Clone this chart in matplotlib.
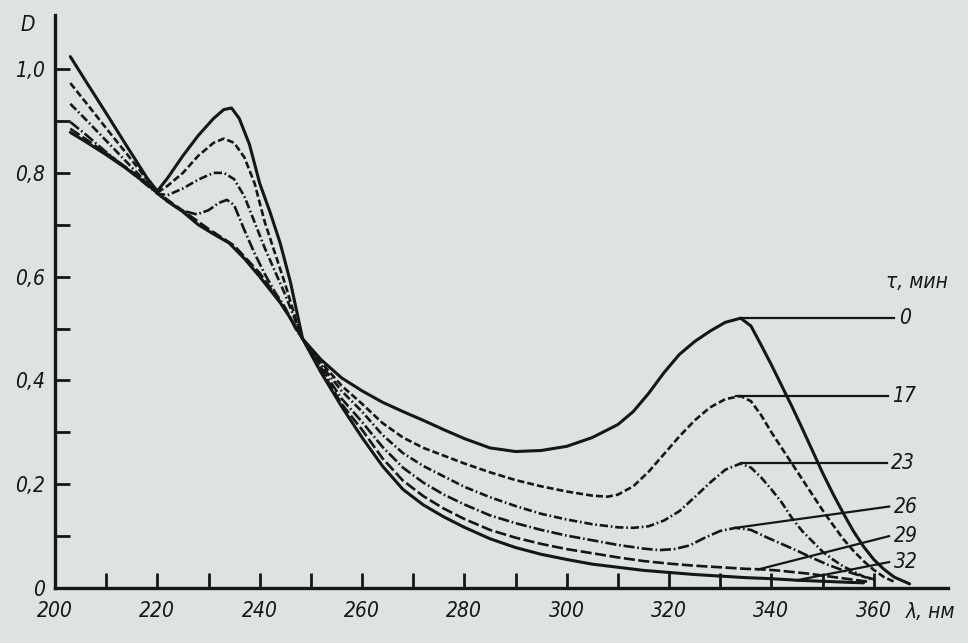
import matplotlib
matplotlib.use('Agg')
import matplotlib.pyplot as plt

# absorption spectra D(lambda) at different times tau, min
wl_0 = [203, 206, 210, 214, 218, 220, 222, 225, 228, 231, 233, 234.5, 236, 238, 240, 242, 244, 246, 248.4,
        252, 256, 260, 264, 268, 272, 276, 280, 285, 290, 295, 300, 305, 310, 313, 316, 319, 322, 325, 328,
        331, 334, 336, 338, 340, 342, 344, 346, 348, 350, 352, 354, 356, 358, 360, 362, 364, 367]
d_0 = [1.024, 0.977, 0.915, 0.852, 0.79, 0.765, 0.79, 0.833, 0.872, 0.905, 0.922, 0.925, 0.905, 0.855, 0.78,
       0.725, 0.665, 0.59, 0.48,
       0.44, 0.405, 0.38, 0.358, 0.34, 0.323, 0.305, 0.288, 0.27, 0.263, 0.265, 0.273, 0.29, 0.315, 0.34,
       0.375, 0.415, 0.45, 0.475, 0.495, 0.512, 0.52, 0.505, 0.468, 0.43, 0.39, 0.35, 0.308, 0.265, 0.222,
       0.182, 0.145, 0.11, 0.08, 0.055, 0.036, 0.021, 0.008]

wl_17 = [203, 206, 210, 214, 218, 220, 222, 225, 228, 231, 233, 235, 237, 239, 241, 243, 245, 247, 248.4,
         252, 256, 260, 264, 268, 272, 276, 280, 285, 290, 295, 300, 305, 308, 310, 313, 316, 319, 322, 325,
         328, 331, 334, 336, 338, 340, 342, 344, 346, 348, 350, 352, 354, 356, 358, 360, 362, 364]
d_17 = [0.973, 0.936, 0.886, 0.837, 0.787, 0.762, 0.775, 0.80, 0.833, 0.858, 0.866, 0.858, 0.83, 0.78, 0.705,
        0.645, 0.585, 0.52, 0.48,
        0.435, 0.39, 0.355, 0.318, 0.29, 0.27, 0.255, 0.24, 0.223, 0.208, 0.196, 0.186, 0.178, 0.176, 0.18,
        0.196, 0.224, 0.258, 0.292, 0.323, 0.348, 0.364, 0.37, 0.36, 0.333, 0.30, 0.27, 0.24, 0.21, 0.18,
        0.15, 0.122, 0.095, 0.072, 0.052, 0.035, 0.021, 0.012]

wl_23 = [203, 206, 210, 214, 218, 220, 222, 225, 228, 231, 233, 235, 237, 239, 241, 243, 245, 247, 248.4,
         252, 256, 260, 264, 268, 272, 276, 280, 285, 290, 295, 300, 305, 310, 313, 316, 319, 322, 325, 328,
         331, 334, 336, 338, 340, 342, 344, 346, 348, 350, 352, 354, 356, 358, 360]
d_23 = [0.933, 0.903, 0.862, 0.821, 0.78, 0.76, 0.757, 0.77, 0.787, 0.80, 0.80, 0.788, 0.755, 0.705, 0.655,
        0.61, 0.565, 0.515, 0.48,
        0.43, 0.38, 0.34, 0.295, 0.26, 0.235, 0.215, 0.195, 0.175, 0.158, 0.143, 0.132, 0.123, 0.117, 0.116,
        0.119, 0.13, 0.148, 0.175, 0.203, 0.228, 0.24, 0.232, 0.213, 0.19, 0.165, 0.135, 0.11, 0.09, 0.07,
        0.055, 0.042, 0.032, 0.022, 0.015]

wl_26 = [203, 206, 210, 214, 218, 220, 222, 225, 227.7, 230, 232, 233.6, 235, 237, 239, 241, 243, 245, 247,
         248.4, 252, 256, 260, 264, 268, 272, 276, 280, 285, 290, 295, 300, 305, 310, 315, 318, 321, 324,
         327, 330, 333, 336, 339, 342, 345, 348, 351, 354, 357, 360]
d_26 = [0.898, 0.874, 0.84, 0.808, 0.776, 0.76, 0.745, 0.727, 0.72, 0.728, 0.742, 0.748, 0.738, 0.69, 0.645,
        0.605, 0.57, 0.54, 0.50, 0.48,
        0.425, 0.365, 0.32, 0.272, 0.232, 0.203, 0.18, 0.161, 0.14, 0.125, 0.112, 0.101, 0.092, 0.083, 0.076,
        0.073, 0.075, 0.082, 0.097, 0.11, 0.116, 0.112, 0.098, 0.085, 0.072, 0.058, 0.045, 0.034, 0.025,
        0.017]

wl_29 = [203, 206, 210, 214, 218, 220, 225, 230, 235, 240, 244, 248.4, 252, 256, 260, 264, 268, 272, 276,
         280, 285, 290, 295, 300, 305, 310, 315, 320, 325, 330, 335, 338, 341, 344, 347, 350, 353, 356, 359]
d_29 = [0.885, 0.865, 0.838, 0.81, 0.78, 0.762, 0.727, 0.692, 0.66, 0.607, 0.552, 0.48,
        0.42, 0.355, 0.305, 0.25, 0.207, 0.177, 0.153, 0.133, 0.112, 0.097, 0.085, 0.075, 0.067, 0.059,
        0.052, 0.047, 0.043, 0.04, 0.037, 0.036, 0.034, 0.031, 0.028, 0.024, 0.02, 0.016, 0.012]

wl_32 = [203, 206, 210, 214, 218, 220, 222, 225, 228, 231, 234, 237, 240, 242, 244, 246, 248.4, 252, 256,
         260, 264, 268, 272, 276, 280, 285, 290, 295, 300, 305, 310, 315, 320, 325, 330, 335, 340, 345, 350,
         355, 358]
d_32 = [0.878, 0.86, 0.835, 0.808, 0.778, 0.762, 0.745, 0.725, 0.70, 0.682, 0.665, 0.635, 0.60, 0.575, 0.55,
        0.52, 0.48, 0.415, 0.35, 0.29, 0.235, 0.19, 0.16, 0.137, 0.117, 0.095, 0.078, 0.065, 0.055, 0.046,
        0.04, 0.034, 0.03, 0.026, 0.023, 0.02, 0.018, 0.015, 0.013, 0.011, 0.01]

# leader lines to the tau labels
tau_labels = ['0', '17', '23', '26', '29', '32']
leader_wl_start = [334, 333, 334, 333, 337.5, 345]
leader_d_start = [0.52, 0.37, 0.24, 0.116, 0.036, 0.015]
leader_wl_end = [364, 362.7, 362.5, 363, 363, 363]
leader_d_end = [0.52, 0.37, 0.24, 0.157, 0.10, 0.05]

y_ticks = [0, 0.2, 0.4, 0.6, 0.8, 1.0]
x_ticks = [200, 220, 240, 260, 280, 300, 320, 340, 360]

PAPER = '#dde4e0'
INK = '#161616'
TXT = dict(fontsize=15, style='italic', fontstretch='condensed', color=INK)


def tick_text(v):
    return '0' if v == 0 else ('%.1f' % v).replace('.', ',')


def main():
    plt.rcParams['font.family'] = ['DejaVu Sans']
    plt.rcParams['lines.scale_dashes'] = False

    fig = plt.figure(figsize=(9.68, 6.43), dpi=100, facecolor=PAPER)
    ax = fig.add_axes([0.0568, 0.0855, 0.9225, 0.891])
    ax.set_facecolor(PAPER)

    curves = [
        (wl_0, d_0, '-', 2.2),
        (wl_17, d_17, (0, (5, 2.2)), 1.9),
        (wl_23, d_23, (0, (6, 2, 1.2, 2)), 1.9),
        (wl_26, d_26, (0, (8, 2, 1.2, 2)), 1.9),
        (wl_29, d_29, (0, (8, 2.5)), 1.9),
        (wl_32, d_32, '-', 2.2),
    ]
    for wl, d, ls, lw in curves:
        ax.plot(wl, d, color=INK, linestyle=ls, linewidth=lw, solid_capstyle='round')

    for i, lab in enumerate(tau_labels):
        ax.plot([leader_wl_start[i], leader_wl_end[i]], [leader_d_start[i], leader_d_end[i]],
                color=INK, linewidth=1.6)
        ax.text(leader_wl_end[i] + 0.9, leader_d_end[i], lab, ha='left', va='center', **TXT)

    ax.text(362.3, 0.59, 'τ, мин', ha='left', va='center', **TXT)
    ax.text(-0.022, 1.085, 'D', transform=ax.get_yaxis_transform(), ha='right', va='center', **TXT)
    ax.text(366.2, -0.046, 'λ, нм', ha='left', va='center', clip_on=False, **TXT)

    ax.set_xlim(200, 374.5)
    ax.set_ylim(0, 1.104)
    for s in ['top', 'right']:
        ax.spines[s].set_visible(False)
    for s in ['left', 'bottom']:
        ax.spines[s].set_linewidth(2.4)
        ax.spines[s].set_color(INK)

    ax.set_xticks(x_ticks)
    ax.set_xticks([t + 10 for t in x_ticks[:-1]], minor=True)
    ax.set_xticklabels([str(t) for t in x_ticks], **TXT)
    ax.set_yticks(y_ticks)
    ax.set_yticks([t + 0.1 for t in y_ticks[:-1]], minor=True)
    ax.set_yticklabels([tick_text(t) for t in y_ticks], **TXT)
    ax.tick_params(which='both', direction='in', length=11, width=2, color=INK)
    ax.tick_params(axis='x', which='both', pad=9)
    ax.tick_params(axis='y', which='both', pad=7)

    fig.savefig('out.png', dpi=100, facecolor=PAPER)


if __name__ == '__main__':
    main()
